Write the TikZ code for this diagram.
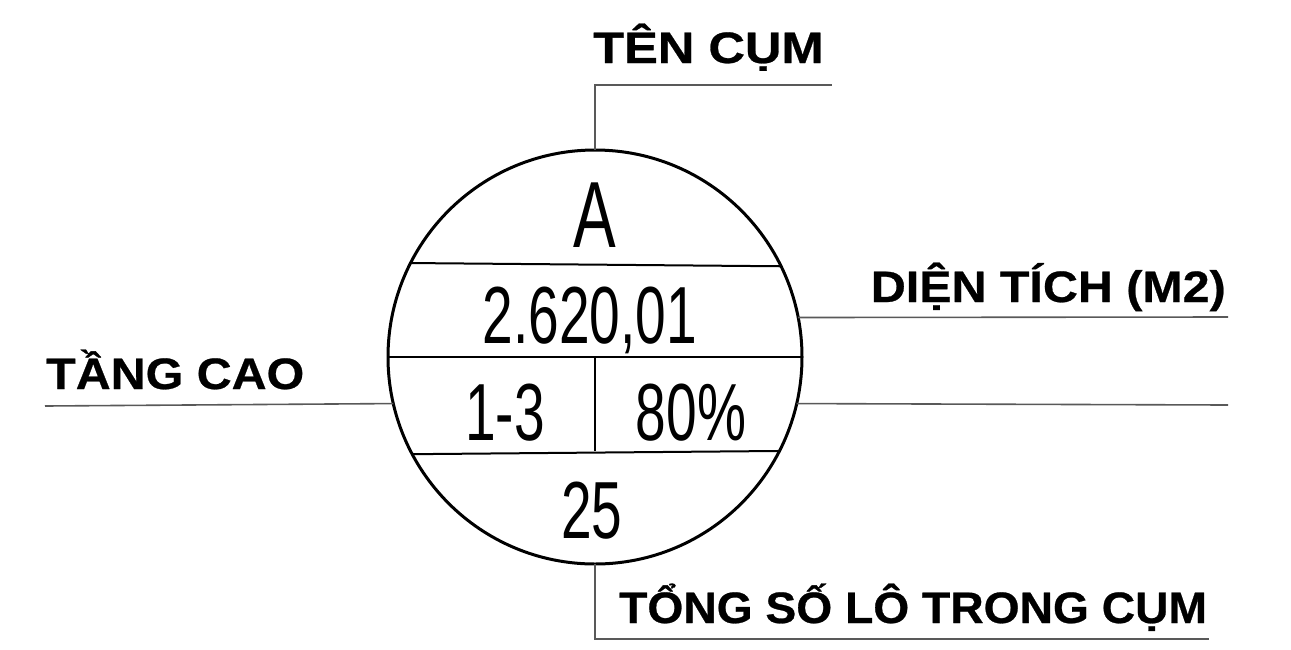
\documentclass[tikz,border=0pt]{standalone}
\usepackage{fontspec}
\newfontfamily\lblfont[FakeStretch=1.1,BoldFeatures={FakeBold=0.6}]{Liberation Sans}
\newfontfamily\lblwide[FakeStretch=1.15,BoldFeatures={FakeBold=0.6}]{Liberation Sans}
\newfontfamily\lblnarrow[FakeStretch=1.05,BoldFeatures={FakeBold=0.6}]{Liberation Sans}
\newfontfamily\cndfont[FakeStretch=0.68]{Liberation Sans}
\tikzset{
  lead/.style={line width=1.6pt, draw=black!65},
  cell/.style={line width=2pt, draw=black},
  lbl/.style={inner sep=0pt, font=\lblfont\bfseries\fontsize{44}{48}\selectfont},
  val/.style={inner sep=0pt, anchor=base, font=\cndfont\fontsize{81}{90}\selectfont},
  big/.style={inner sep=0pt, anchor=base, font=\cndfont\fontsize{94}{100}\selectfont},
}
\begin{document}
\begin{tikzpicture}[x=1pt,y=-1pt]
\useasboundingbox (0,0) rectangle (1291,649);
% circle
\node[circle, draw, line width=3pt, minimum size=414pt, inner sep=0pt, outer sep=0pt] (c) at (595,357) {};
% chords
\draw[cell] (c.153.6) -- (c.26.4);
\draw[cell] (c.180) -- (c.0);
\draw[cell] (c.-152.7) -- (c.-27.3);
\draw[cell] (c.center) -- (c.center |- c.-27.3);
% values
\node[big] (vA) at (595,247) {A};
\node[val] (vArea) at (590,343) {2.620,01};
\node[val] (vFloor) at (505,440) {1-3};
\node[val] (vDens) at (691,440) {80\%};
\node[val] (vLots) at (592,538) {25};
% leader coordinates
\coordinate (tEnd) at (832,85);
\coordinate (bEnd) at (1209,639);
\coordinate (lEnd) at (45,406);
\coordinate (r1End) at (1228,317);
\coordinate (r2End) at (1228,405);
% leaders
\draw[lead] (c.north) |- (tEnd);
\draw[lead] (c.south) |- (bEnd);
\draw[lead] (lEnd) -- (c.193.7);
\draw[lead] (c.11.1) -- (r1End);
\draw[lead] (c.-13.4) -- (r2End);
% labels
\node[lbl, font=\lblwide\bfseries\fontsize{44}{48}\selectfont, anchor=base west] (tName) at (593,63) {TÊN CỤM};
\node[lbl, anchor=base west] (tFloor) at (46,389) {TẦNG CAO};
\node[lbl, anchor=base east] (tArea) at (1226,302) {DIỆN TÍCH (M2)};
\node[lbl, font=\lblnarrow\bfseries\fontsize{44}{48}\selectfont, anchor=base west] (tLots) at (619,623) {TỔNG SỐ LÔ TRONG CỤM};
\end{tikzpicture}
\end{document}
